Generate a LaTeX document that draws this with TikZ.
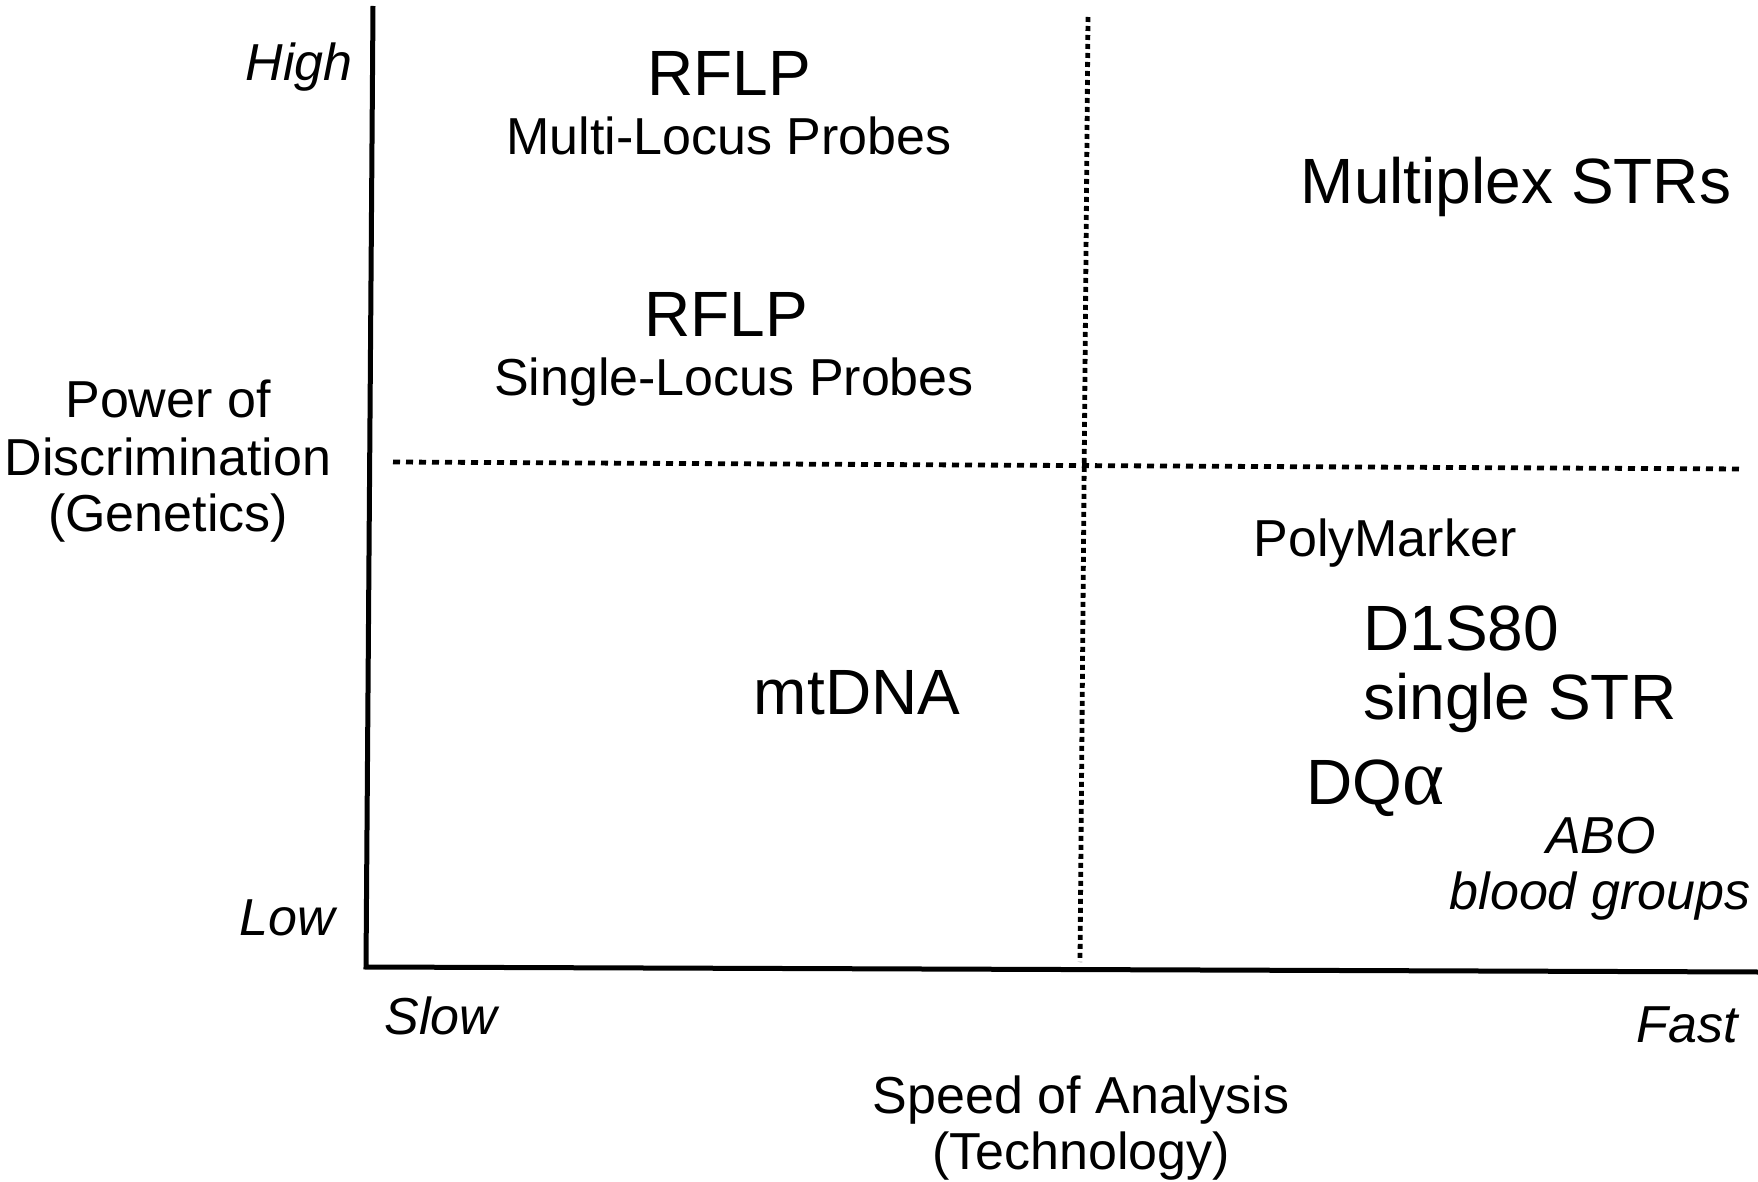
\documentclass[tikz,border=0pt]{standalone}
\usepackage{fontspec}
\setmainfont{Liberation Sans}
\newfontfamily\serifalpha{Liberation Serif}
\begin{document}
\begin{tikzpicture}[x=0.5pt,y=-0.5pt,
  big/.style={inner sep=0pt,font=\fontsize{32}{38}\selectfont},
  mid/.style={inner sep=0pt,font=\fontsize{26}{31}\selectfont},
  midit/.style={inner sep=0pt,font=\fontsize{26}{31}\selectfont\itshape},
  axis/.style={line width=2.5pt,line join=miter},
  hdash/.style={line width=2.4pt,dash pattern=on 3.5pt off 3pt},
  vdot/.style={line width=2.4pt,dash pattern=on 2.5pt off 2pt}]
\useasboundingbox (0,0) rectangle (1758,1182);
% axes
\coordinate (top) at (373,6);
\coordinate (origin) at (366,967);
\coordinate (right) at (1758,972);
\draw[axis] (top) -- (origin) -- (right);
% quadrant dividers
\coordinate (vt) at (1088,17);
\coordinate (vb) at (1080,962);
\coordinate (hl) at (393,462);
\coordinate (hr) at (1743,469);
\draw[vdot] (vt) -- (vb);
\draw[hdash] (hl) -- (hr);
% axis labels
\node[midit,anchor=base] (high) at (299,81) {High};
\node[midit,anchor=base] (low) at (287,935) {Low};
\node[midit,anchor=base] (slow) at (441,1034) {Slow};
\node[midit,anchor=base] (fast) at (1687,1042) {Fast};
\node[mid,anchor=base] (pow1) at (168,417) {Power of};
\node[mid,anchor=base] (pow2) at (168,475) {Discrimination};
\node[mid,anchor=base] (pow3) at (168,531) {(Genetics)};
\node[mid,anchor=base] (spd1) at (1081,1113) {Speed of Analysis};
\node[mid,anchor=base] (spd2) at (1081,1169) {(Technology)};
% quadrant contents
\node[big,anchor=base] (rflp1) at (729,96) {RFLP};
\node[mid,anchor=base] (mlp) at (729,155) {Multi-Locus Probes};
\node[big,anchor=base] (rflp2) at (726,337) {RFLP};
\node[mid,anchor=base] (slp) at (734,396) {Single-Locus Probes};
\node[big,anchor=base] (mstr) at (1516,204) {Multiplex STRs};
\node[mid,anchor=base] (poly) at (1385,556) {PolyMarker};
\node[big,anchor=base west] (d1s) at (1363,650) {D1S80};
\node[big,anchor=base west] (sstr) at (1363,719) {single STR};
\node[big,anchor=base] (mt) at (857,714) {mtDNA};
\node[big,anchor=base west] (dqa) at (1306,804) {DQ{\serifalpha\fontsize{40}{46}\selectfont α}};
\node[midit,anchor=base] (abo) at (1601,853) {ABO};
\node[midit,anchor=base] (blood) at (1600,909) {blood groups};
\end{tikzpicture}
\end{document}
